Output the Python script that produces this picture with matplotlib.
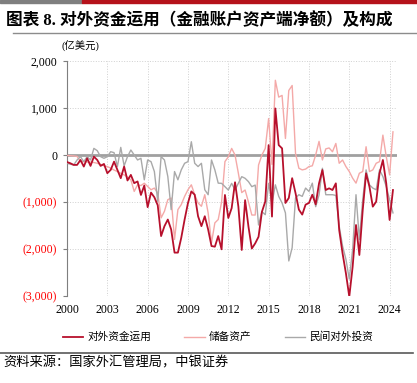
import numpy as np
import matplotlib
matplotlib.use('Agg')
import matplotlib.pyplot as plt
from matplotlib.lines import Line2D
from matplotlib.patches import Rectangle

# quarterly, 2000Q1 - 2024Q2, 亿美元
total_use = [-150, -176, -211, -211, -106, -246, -70, -232, -35, -106,
             -232, -190, -387, -317, -141, -317, -493, -246, -542, -423,
             -599, -563, -850, -650, -1110, -800, -900, -1070, -1725, -1514,
             -1373, -1585, -2077, -2077, -1761, -1373, -1021, -775, -845, -1303,
             -1514, -1303, -1585, -1937, -1951, -1725, -2007, -850, -1340, -1130,
             -580, -1100, -2020, -960, -1525, -1990, -1880, -1740, -1210, -990,
             210, -1310, 990, 211, 141, -1021, -915, -493, -810, -1162,
             -1268, -1056, -1021, -845, -1050, -603, -319, -745, -709, -745,
             -603, -1596, -2092, -2518, -3014, -2376, -1489, -2128, -1170, -390,
             -674, -1099, -993, -390, -106, -603, -1383, -745]
reserve = [-10, -15, -20, -30, -140, -140, -150, -150, -160, -176,
           -200, -230, -246, -280, -320, -352, -390, -423, -470, -528,
           -775, -634, -650, -600, -669, -739, -704, -810, -1338, -1197,
           -951, -915, -1796, -1162, -1056, -880, -739, -634, -845, -1021,
           -1091, -845, -1232, -1870, -1444, -1373, -1000, -140, -40, 140,
           0, -390, -800, -745, -1000, -1277, -1277, -213, 0, 142,
           775, -200, 1590, 1232, 1268, 352, 1373, 1479, 35, -282,
           -317, -300, -246, -230, 0, 290, -106, 130, 150, 70,
           246, -176, -106, -246, -352, -493, -599, -388, -352, 176,
           -352, -317, -176, -141, 423, -35, -423, 493]
private = [-176, -197, -211, -106, -35, -141, -35, -106, 141, 92,
           -35, -70, -35, 70, 50, -246, 162, -232, -35, 106,
           0, -106, -70, -528, -106, -141, -352, -986, -35, -106,
           -458, -1162, -352, -528, -317, -176, -141, 282, -176, -246,
           -176, -739, -845, -106, -317, -599, -603, -674, -745, -603,
           -745, -600, -461, -496, -567, -674, -640, -1489, -1206, -1270,
           -603, -1028, -634, -880, -1021, -1232, -2254, -1972, -915, -845,
           -880, -704, -775, -599, -1100, -850, -282, -845, -845, -845,
           -860, -1514, -1937, -2218, -2641, -2007, -845, -1796, -951, -317,
           -634, -704, -740, -317, -458, -669, -951, -1232]
year_labels = ['2000', '2003', '2006', '2009', '2012', '2015', '2018', '2021', '2024']
y_values = [-3000, -2000, -1000, 0, 1000, 2000]
series_names = ['对外资金运用', '储备资产', '民间对外投资']

plt.rcParams['font.family'] = ['Liberation Serif', 'Noto Sans CJK SC']

W, H = 417, 383
fig = plt.figure(figsize=(W / 100, H / 100), dpi=100)


def fx(px):
    return px / W


def fy(py):
    return 1 - py / H


# header
fig.patches.append(Rectangle((0, fy(3)), fx(82), 3 / H, transform=fig.transFigure, color='#7f7f7f'))
fig.patches.append(Rectangle((fx(82), fy(3)), 1 - fx(82), 3 / H, transform=fig.transFigure, color='#b5121b'))
fig.text(fx(6), fy(21), '图表 8. 对外资金运用（金融账户资产端净额）及构成',
         fontsize=12, fontweight='bold', va='center')
fig.add_artist(Line2D([fx(13), 1], [fy(33)] * 2, color='#8c8c8c', lw=1))
fig.text(fx(61), fy(46), '(亿美元)', fontsize=7.5, va='center')

ax = fig.add_axes([fx(67), fy(296), (397 - 67) / W, (296 - 61) / H])
x = np.arange(len(total_use))
ax.axhline(0, color='#a0a0a0', lw=2, zorder=2)
l2, = ax.plot(x, reserve, color='#f4a9a8', lw=1.0, zorder=3)
l3, = ax.plot(x, private, color='#a9a9a9', lw=1.0, zorder=3)
l1, = ax.plot(x, total_use, color='#b7102c', lw=1.3, zorder=4)

ax.set_xlim(0, 98.2)
ax.set_ylim(-3000, 2000)
ax.set_xticks(np.arange(len(year_labels)) * 12)
ax.set_xticklabels(year_labels)
ax.set_yticks(y_values)
ax.set_yticklabels([f'({-v:,})' if v < 0 else f'{v:,}' for v in y_values])
for lab, v in zip(ax.get_yticklabels(), y_values):
    lab.set_color('#ff0000' if v < 0 else '#000000')

ax.grid(True, ls=':', color='#d0d0d0', lw=0.7, zorder=0)
for s in ['top', 'right', 'bottom']:
    ax.spines[s].set_visible(False)
ax.spines['left'].set_color('#7f7f7f')
ax.tick_params(axis='y', length=3, color='#7f7f7f', labelsize=8.5, pad=4)
ax.tick_params(axis='x', length=0, labelsize=8.5, pad=6)

ax.legend([l1, l2, l3], series_names, loc='center', bbox_to_anchor=(fx(218), fy(337)),
          bbox_transform=fig.transFigure, ncol=3, frameon=False, fontsize=7.7,
          handlelength=1.9, handletextpad=0.4, columnspacing=3.1)

fig.add_artist(Line2D([0, fx(413)], [fy(353)] * 2, color='#595959', lw=1.2))
fig.text(fx(3), fy(363), '资料来源：国家外汇管理局，中银证券', fontsize=9.5, style='italic', va='center')

fig.savefig('out.png', dpi=100)
